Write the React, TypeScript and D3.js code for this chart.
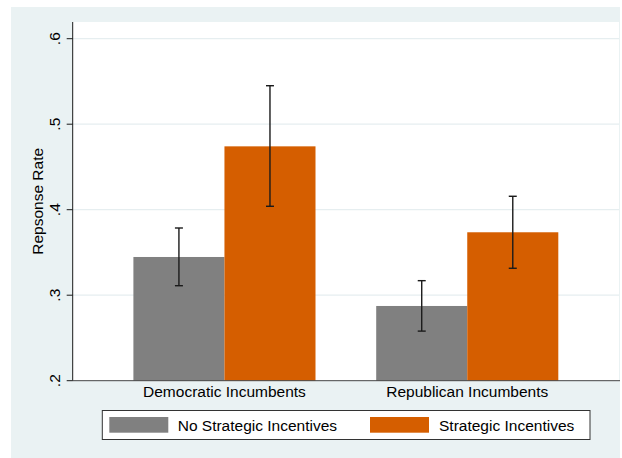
import React from "react";
import * as d3 from "d3";

// Response rates by incumbent party and treatment condition
const categories = ["Democratic Incumbents", "Republican Incumbents"];
const seriesNames = ["No Strategic Incentives", "Strategic Incentives"];
const noIncentive = [0.3447, 0.2874];
const noIncentiveLow = [0.3111, 0.258];
const noIncentiveHigh = [0.3786, 0.317];
const incentive = [0.4741, 0.3736];
const incentiveLow = [0.404, 0.3315];
const incentiveHigh = [0.545, 0.4157];
const yTicks = [0.2, 0.3, 0.4, 0.5, 0.6];
const yTickLabels = [".2", ".3", ".4", ".5", ".6"];

const W = 622;
const H = 458;
const FONT = "'Liberation Sans', Arial, Helvetica, sans-serif";
const COLORS = ["#808080", "#d55e00"];
const BG = "#eaf2f3";
const GRID = "#e6eef0";
const INK = "#1a1a1a";

const plotLeft = 72.7;
const plotRight = 619;
const plotTop = 22;
const axisY = 380.7;

export default function App() {
  const x = d3
    .scaleBand<string>()
    .domain(categories)
    .range([plotLeft, plotRight])
    .paddingInner(0.25)
    .paddingOuter(0.25);
  const sub = d3
    .scaleBand<string>()
    .domain(seriesNames)
    .range([0, x.bandwidth()]);
  const y = d3.scaleLinear().domain([0.2, 0.6]).range([axisY, 38.7]);

  const series = [
    { name: seriesNames[0], vals: noIncentive, lo: noIncentiveLow, hi: noIncentiveHigh },
    { name: seriesNames[1], vals: incentive, lo: incentiveLow, hi: incentiveHigh },
  ];

  const capHalf = 4;

  return (
    <svg
      width={W}
      height={H}
      style={{ position: "absolute", left: 0, top: 0, display: "block" }}
      fontFamily={FONT}
    >
      <rect x={0} y={0} width={W} height={H} fill="#ffffff" />
      {/* graph region */}
      <rect x={11} y={7} width={609} height={H - 7} fill={BG} />
      {/* plot region */}
      <rect x={plotLeft} y={plotTop} width={plotRight - plotLeft} height={axisY - plotTop} fill="#ffffff" />

      {/* gridlines */}
      {yTicks.slice(1).map((t) => (
        <line key={t} x1={plotLeft} x2={plotRight} y1={y(t)} y2={y(t)} stroke={GRID} strokeWidth={1.2} />
      ))}

      {/* bars */}
      {series.map((s, si) =>
        categories.map((c, ci) => {
          const bx = (x(c) ?? 0) + (sub(s.name) ?? 0);
          return (
            <rect
              key={`${si}-${ci}`}
              x={bx}
              y={y(s.vals[ci])}
              width={sub.bandwidth()}
              height={axisY - y(s.vals[ci])}
              fill={COLORS[si]}
            />
          );
        })
      )}

      {/* confidence intervals */}
      {series.map((s, si) =>
        categories.map((c, ci) => {
          const cx = (x(c) ?? 0) + (sub(s.name) ?? 0) + sub.bandwidth() / 2;
          const yl = y(s.lo[ci]);
          const yh = y(s.hi[ci]);
          return (
            <g key={`e${si}-${ci}`} stroke={INK} strokeWidth={1.4}>
              <line x1={cx} x2={cx} y1={yh} y2={yl} />
              <line x1={cx - capHalf} x2={cx + capHalf} y1={yh} y2={yh} />
              <line x1={cx - capHalf} x2={cx + capHalf} y1={yl} y2={yl} />
            </g>
          );
        })
      )}

      {/* axes */}
      <line x1={plotLeft} x2={plotLeft} y1={plotTop} y2={axisY} stroke={INK} strokeWidth={1} />
      <line x1={plotLeft} x2={plotRight + 1} y1={axisY} y2={axisY} stroke="#444" strokeWidth={1} />

      {yTicks.map((t, i) => (
        <g key={`t${t}`}>
          <line x1={plotLeft - 6} x2={plotLeft} y1={y(t)} y2={y(t)} stroke={INK} strokeWidth={1} />
          <text
            transform={`translate(${60},${y(t)}) rotate(-90)`}
            textAnchor="middle"
            fontSize={15.5}
            fill="#000"
          >
            {yTickLabels[i]}
          </text>
        </g>
      ))}

      <text
        transform={`translate(${42.7},${(plotTop + axisY) / 2}) rotate(-90)`}
        textAnchor="middle"
        fontSize={15.5}
        fill="#000"
      >
        Repsonse Rate
      </text>

      {categories.map((c) => (
        <text
          key={c}
          x={(x(c) ?? 0) + x.bandwidth() / 2}
          y={396.7}
          textAnchor="middle"
          fontSize={15.5}
          fill="#000"
        >
          {c}
        </text>
      ))}

      {/* legend */}
      <rect x={102.3} y={410.5} width={487.7} height={29} fill="#ffffff" stroke="#333" strokeWidth={1} />
      {seriesNames.map((n, i) => {
        const sx = i === 0 ? 109.3 : 370;
        const tx = i === 0 ? 177.7 : 439;
        return (
          <g key={n}>
            <rect x={sx} y={417} width={59} height={15.7} fill={COLORS[i]} />
            <text x={tx} y={431} fontSize={15.5} fill="#000">
              {n}
            </text>
          </g>
        );
      })}
    </svg>
  );
}
